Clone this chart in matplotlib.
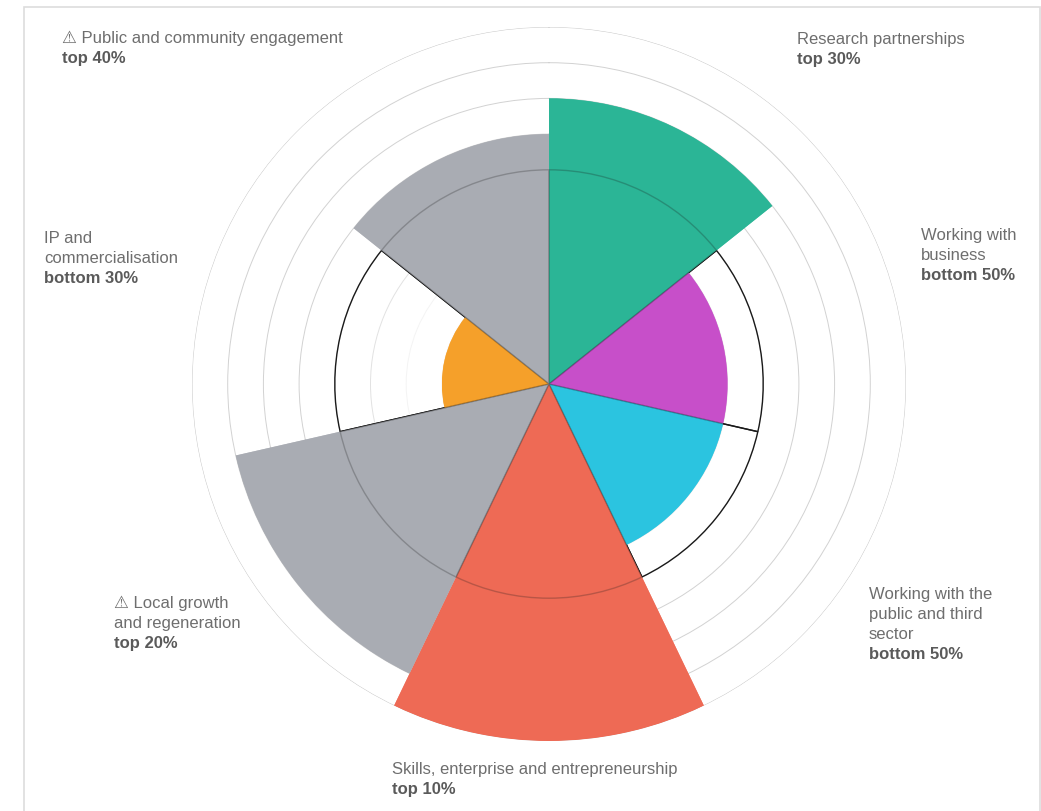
import numpy as np
import matplotlib
matplotlib.use("Agg")
import matplotlib.pyplot as plt
from matplotlib.patches import Rectangle

categories = ["Research partnerships", "Working with business",
              "Working with the public and third sector",
              "Skills, enterprise and entrepreneurship",
              "Local growth and regeneration", "IP and commercialisation",
              "Public and community engagement"]
scores = [8, 5, 5, 10, 9, 3, 7]
benchmark = [6, 6, 6, 6, 6, 6, 6]
colours = ["#2bb596", "#c74fc9", "#2bc4e0", "#ee6a55", "#a9acb3", "#f5a02a", "#a9acb3"]
rings = [1, 2, 3, 4, 5, 6, 7, 8, 9, 10]

label_lines = [
    (["Research partnerships"], "top 30%"),
    (["Working with", "business"], "bottom 50%"),
    (["Working with the", "public and third", "sector"], "bottom 50%"),
    (["Skills, enterprise and entrepreneurship"], "top 10%"),
    (["\u26a0 Local growth", "and regeneration"], "top 20%"),
    (["IP and", "commercialisation"], "bottom 30%"),
    (["\u26a0 Public and community engagement"], "top 40%"),
]
label_xy = [(797, 44), (921, 240), (869, 599), (392, 774), (114, 608), (44, 243), (62, 43)]

W, H = 1041, 811
CX, CY, R = 549, 384, 357
FONT = ["Liberation Sans", "DejaVu Sans"]

fig = plt.figure(figsize=(W / 100, H / 100), dpi=100, facecolor="white")
fig.add_artist(Rectangle((24 / W, -0.01), (1039.5 - 24) / W, (H - 7) / H + 0.01,
                         transform=fig.transFigure, fc="none", ec="#dddddd", lw=1.2))

ax = fig.add_axes([(CX - R) / W, (H - CY - R) / H, 2 * R / W, 2 * R / H], projection="polar")
ax.set_theta_zero_location("N")
ax.set_theta_direction(-1)
ax.set_ylim(0, 10)
ax.patch.set_alpha(0)
ax.spines["polar"].set_visible(False)
ax.set_xticks([])
ax.set_yticks(rings)
ax.set_yticklabels([])
ax.tick_params(length=0)
ax.grid(True, axis="y", color="#d2d2d2", lw=0.7)
for r, gl in zip(rings, ax.yaxis.get_gridlines()):
    if r <= 4:
        gl.set_color("#f4f4f4")
    elif r <= 6:
        gl.set_color("#e2e2e2")
    elif r == 10:
        gl.set_color("#c8c8c8")
ax.set_axisbelow(True)

n = len(categories)
width = 2 * np.pi / n
theta = (np.arange(n) + 0.5) * width
ax.bar(theta, scores, width=width, bottom=0, color=colours, linewidth=0, zorder=2)
ax.bar(theta, benchmark, width=width, bottom=0, facecolor="none",
       edgecolor="#1a1a1a", linewidth=1.0, zorder=3)
ax.bar(theta, scores, width=width, bottom=0, color=colours, alpha=0.75,
       linewidth=0, zorder=4)

for (lines, rank), (x, y) in zip(label_lines, label_xy):
    for i, s in enumerate(lines):
        fig.text(x / W, 1 - (y + 20 * i) / H, s, family=FONT, fontsize=12,
                 color="#6e6e6e", ha="left", va="baseline")
    fig.text(x / W, 1 - (y + 20 * len(lines)) / H, rank, family=FONT, fontsize=12,
             fontweight="bold", color="#5a5a5a", ha="left", va="baseline")

fig.savefig("out.png", dpi=100)
